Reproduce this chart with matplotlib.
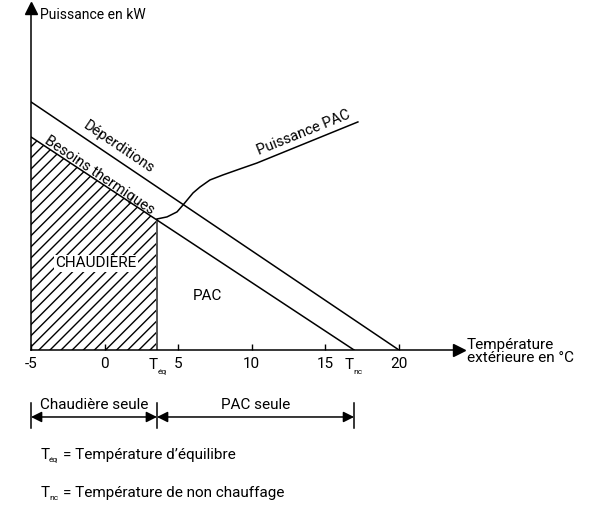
import matplotlib
matplotlib.use('Agg')
import matplotlib.pyplot as plt

plt.rcParams['font.family'] = ['Roboto', 'DejaVu Sans']
plt.rcParams['hatch.linewidth'] = 1.0

t_min = -5
t_eq = 3.56
t_nc = 16.95
t_dep_zero = 20
dep_at_min = 16.85      # déperditions à -5 °C
bes_at_min = 14.47      # besoins thermiques à -5 °C

xticks = [-5, 0, 5, 10, 15, 20]

# puissance PAC
pac_t = [3.56, 4.24, 4.92, 5.33, 6.01, 6.48, 7.16, 8.04, 9.20, 10.35, 17.21]
pac_p = [8.90, 9.04, 9.38, 9.85, 10.67, 11.07, 11.55, 11.89, 12.30, 12.70, 15.49]

bes_at_eq = bes_at_min * (t_nc - t_eq) / (t_nc - t_min)

fig = plt.figure(figsize=(5.96, 5.05), dpi=100)
ax = fig.add_axes([31 / 596, 155 / 505, 428 / 596, 342 / 505])
ax.set_xlim(-5, 24.08)
ax.set_ylim(0, 23.23)

for s in ['top', 'right']:
    ax.spines[s].set_visible(False)
for s in ['left', 'bottom']:
    ax.spines[s].set_linewidth(1.1)
ax.set_yticks([])
ax.set_xticks(xticks)
ax.set_xticklabels([str(v) for v in xticks], fontsize=11)
ax.tick_params(axis='x', direction='in', length=4, width=1, pad=5)

# flèches des axes
ax.plot(1, 0, '>k', markersize=8, transform=ax.transAxes, clip_on=False)
ax.plot(0, 1, '^k', markersize=8, transform=ax.transAxes, clip_on=False)

# zone hachurée (chaudière)
ax.fill([t_min, t_min, t_eq, t_eq], [0, bes_at_min, bes_at_eq, 0],
        facecolor='none', edgecolor='black', hatch='///', linewidth=0)
ax.plot([t_eq, t_eq], [0, bes_at_eq], color='#555555', lw=1.4)

# droites
ax.plot([t_min, t_dep_zero], [dep_at_min, 0], color='black', lw=1.1)
ax.plot([t_min, t_nc], [bes_at_min, 0], color='black', lw=1.1)
ax.plot(pac_t, pac_p, color='black', lw=1.1)

# textes sur le graphe
ax.text(0.95, 13.8, 'Déperditions', rotation=-34, ha='center', va='center', fontsize=10.5)
ax.text(-0.35, 11.9, 'Besoins thermiques', rotation=-34, ha='center', va='center', fontsize=10.5)
ax.text(13.5, 14.75, 'Puissance PAC', rotation=22, ha='center', va='center', fontsize=10.5)
ax.text(-0.6, 5.9, 'CHAUDIÈRE', ha='center', va='center', fontsize=11,
        bbox=dict(facecolor='white', edgecolor='none', pad=1))
ax.text(7.0, 3.7, 'PAC', ha='center', va='center', fontsize=11)

# étiquettes Téq / Tnc
ax.text(t_eq - 0.25, -0.55, 'T', ha='center', va='top', fontsize=11)
ax.text(t_eq + 0.05, -1.3, 'éq', ha='left', va='top', fontsize=6)
ax.text(t_nc - 0.35, -0.55, 'T', ha='center', va='top', fontsize=11)
ax.text(t_nc - 0.05, -1.3, 'nc', ha='left', va='top', fontsize=6)

ax.text(24.6, -0.1, 'Température\nextérieure en °C', ha='left', va='center',
        fontsize=11, linespacing=0.95)
ax.text(-4.4, 22.76, 'Puissance en kW', ha='left', va='center', fontsize=10)

# cotes sous l'axe
y_dim = -4.55
for t in [t_min, t_eq, t_nc]:
    ax.plot([t, t], [-3.6, -5.3], color='black', lw=1.1, clip_on=False)
for a, b, lab in [(t_min, t_eq, 'Chaudière seule'), (t_eq, t_nc, 'PAC seule')]:
    ax.annotate('', xy=(a, y_dim), xytext=(b, y_dim), annotation_clip=False,
                arrowprops=dict(arrowstyle='<|-|>', color='black', lw=1.1,
                                mutation_scale=16, shrinkA=0, shrinkB=0))
    ax.text((a + b) / 2, y_dim + 0.35, lab, ha='center', va='bottom', fontsize=11)

# légende
fig.text(41 / 596, 1 - 455 / 505, 'T', ha='left', va='center', fontsize=11)
fig.text(49 / 596, 1 - 460 / 505, 'éq', ha='left', va='center', fontsize=6)
fig.text(63 / 596, 1 - 455 / 505, '= Température d’équilibre', ha='left', va='center', fontsize=11)
fig.text(41 / 596, 1 - 493 / 505, 'T', ha='left', va='center', fontsize=11)
fig.text(49 / 596, 1 - 498 / 505, 'nc', ha='left', va='center', fontsize=6)
fig.text(63 / 596, 1 - 493 / 505, '= Température de non chauffage', ha='left', va='center', fontsize=11)

fig.savefig('out.png', dpi=100)
